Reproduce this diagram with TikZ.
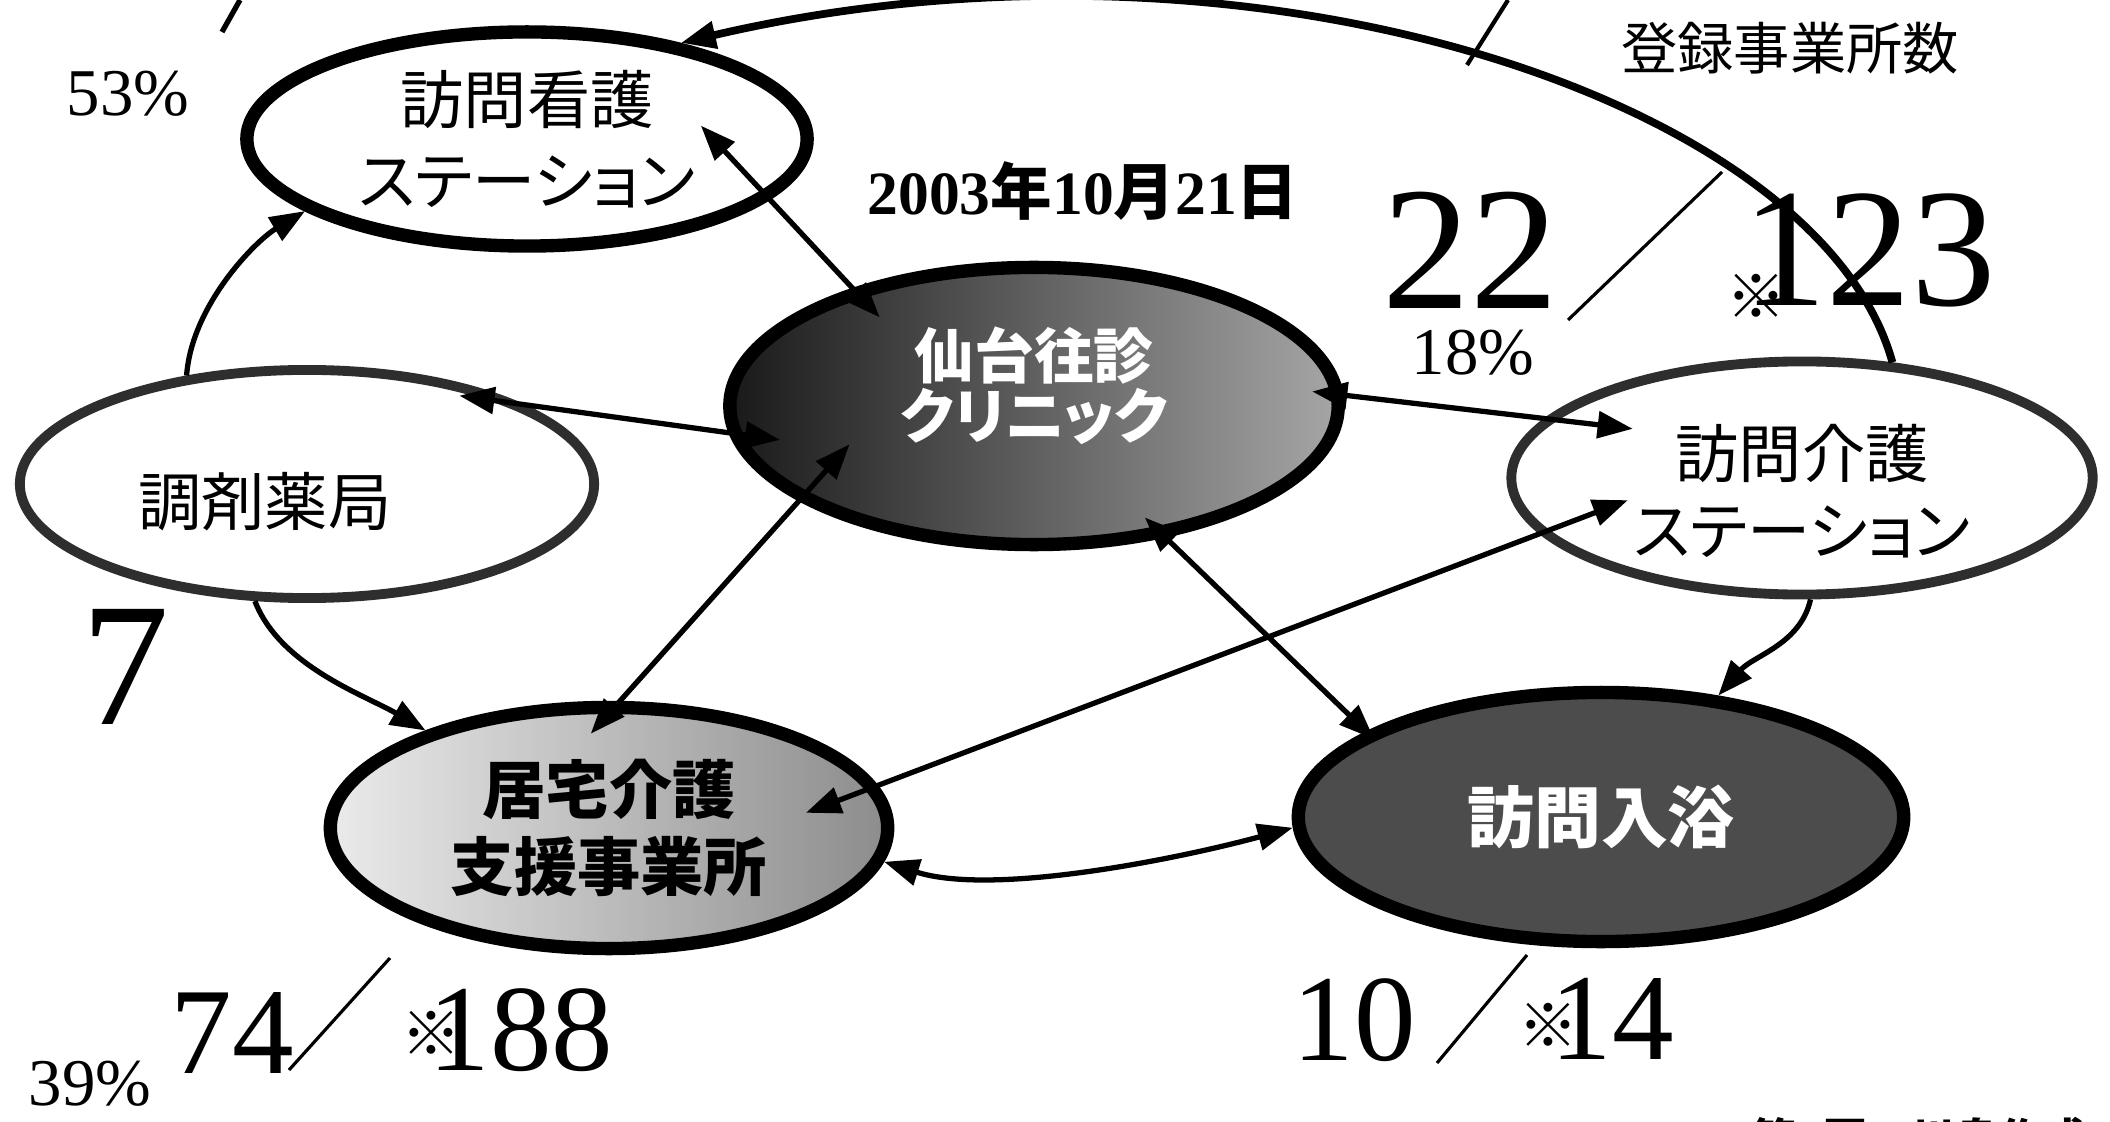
\documentclass[tikz,border=0pt]{standalone}
\usepackage{fontspec}
\setmainfont{Liberation Serif}
\newfontfamily\gothic{Noto Sans CJK JP}[RawFeature=+palt]
\usetikzlibrary{positioning, arrows.meta, shapes.geometric}
\tikzstyle{oneway} = [line width=1.5pt, -{Triangle[length=10pt,width=7.5pt]}]
\tikzstyle{twoway} = [line width=1.5pt, {Triangle[length=10pt,width=7.5pt]}-{Triangle[length=10pt,width=7.5pt]}]

\begin{document}
\begin{tikzpicture}[x=0.01cm, y=-0.01cm]
    \tikzstyle{every node}=[font=\gothic\fontsize{18}{23}\selectfont]
    \tikzstyle{station} = [ellipse, draw=black, line width=3.8pt, fill=white, inner sep=0pt, align=center]
    \tikzstyle{greyring} = [station, draw=black!82, line width=2.8pt]
    \tikzstyle{bignum} = [font=\fontsize{50}{50}\selectfont, inner sep=0pt]
    \tikzstyle{smallnum} = [font=\fontsize{35}{35}\selectfont, inner sep=0pt]
    \tikzstyle{pct} = [font=\fontsize{19}{19}\selectfont, inner sep=0pt]
    \tikzstyle{kome} = [font=\gothic\fontsize{17}{17}\selectfont, inner sep=0pt]
    \tikzstyle{slash} = [line width=0.9pt]

    \fill[white] (0,0) rectangle (2110,1122);
    \useasboundingbox (0,0) rectangle (2110,1122);

    % the six offices
    \node[station, minimum width=5.6cm, minimum height=2.14cm] (kango) at (527,139) {訪問看護\\ステーション};
    \node[greyring, minimum width=5.74cm, minimum height=2.28cm] (yakkyoku) at (307,484) {調剤薬局\rule{0.84cm}{0pt}\rule{0pt}{0.88cm}};
    \node[station, minimum width=6.08cm, minimum height=2.77cm, left color=black!90, right color=black!35, text=white,
          font=\gothic\bfseries\fontsize{17}{17}\selectfont] (clinic) at (1034,406) {仙台往診\\クリニック\rule[-0.46cm]{0pt}{0.46cm}};
    \node[greyring, minimum width=5.81cm, minimum height=2.33cm, font=\gothic\fontsize{18}{22}\selectfont] (kaigo) at (1802,478) {\rule{0pt}{0.8cm}訪問介護\\ステーション};
    \node[station, minimum width=5.57cm, minimum height=2.41cm, left color=black!8, right color=black!45,
          font=\gothic\bfseries\fontsize{18}{22}\selectfont] (kyotaku) at (609,828) {居宅介護\\支援事業所};
    \node[station, minimum width=6.05cm, minimum height=2.49cm, fill=black!70, text=white,
          font=\gothic\bfseries\fontsize{19}{19}\selectfont] (nyuyoku) at (1601,817) {訪問入浴};

    % links
    \draw[oneway, line width=2.2pt] (kaigo.52) .. controls (1820,100) and (1250,-90) .. (kango.32);
    \draw[oneway] (yakkyoku.138) .. controls +(5,-70) and +(-50,30) .. (kango.198);
    \draw[twoway, shorten <=-0.66cm, shorten >=-0.52cm] (yakkyoku.20) -- (clinic.185);
    \draw[twoway, shorten <=-1.01cm, shorten >=-0.40cm] (kango.-14) -- (clinic.147);
    \draw[twoway, shorten <=-0.76cm, shorten >=-0.44cm] (clinic.202) -- (kyotaku.85);
    \draw[twoway, shorten <=-0.32cm, shorten >=-0.89cm] (clinic.2) -- (kaigo.167);
    \draw[twoway, shorten <=-0.29cm, shorten >=-0.11cm] (clinic.-45) -- (nyuyoku.160);
    \draw[twoway, shorten <=-0.945cm, shorten >=-0.77cm] (kaigo.192) -- (kyotaku.9);
    \draw[oneway] (kaigo.-86) .. controls +(-10,45) and +(35,-40) .. (nyuyoku.46);
    \draw[oneway] (yakkyoku.246) .. controls +(25,65) and +(-60,-35) .. (kyotaku.152);
    \draw[twoway] (kyotaku.-7) .. controls +(110,35) and +(-110,30) .. (nyuyoku.182);

    % titles
    \node[font=\bfseries\fontsize{17.5}{20}\selectfont] (date) at (1083,191) {2003{\gothic 年}10{\gothic 月}21{\gothic 日}};
    \node[font=\gothic\fontsize{16}{18}\selectfont] (touroku) at (1790,48) {登録事業所数};

    % counts
    \node[pct] (p53) at (128,94) {53\%};
    \node[bignum] (n22) at (1470,250) {22};
    \draw[slash] (1568,320) -- (1722,172);
    \node[bignum, font=\fontsize{48}{48}\selectfont] (n123) at (1869,250) {123};
    \node[kome] (k123) at (1756,296) {※};
    \node[pct] (p18) at (1473,353) {18\%};
    \node[bignum] (n7) at (125,667) {7};
    \node[smallnum] (n74) at (232,1033) {74};
    \draw[slash] (289,1070) -- (390,958);
    \node[smallnum] (n188) at (521,1030) {188};
    \node[kome] (k188) at (431,1033) {※};
    \node[pct] (p39) at (90,1084) {39\%};
    \node[smallnum] (n10) at (1354,1020) {10};
    \draw[slash] (1437,1063) -- (1527,955);
    \node[smallnum] (n14) at (1612,1019) {14};
    \node[kome] (k14) at (1548,1025) {※};

    % cut off at the edges
    \draw[line width=1.5pt] (222,32) -- (240,0);
    \draw[line width=1.2pt] (1467,65) -- (1508,0);
    \node[anchor=west, font=\gothic\bfseries\fontsize{12.5}{14}\selectfont] (foot) at (1740,1139) {第1回　川島作成};
\end{tikzpicture}
\end{document}
